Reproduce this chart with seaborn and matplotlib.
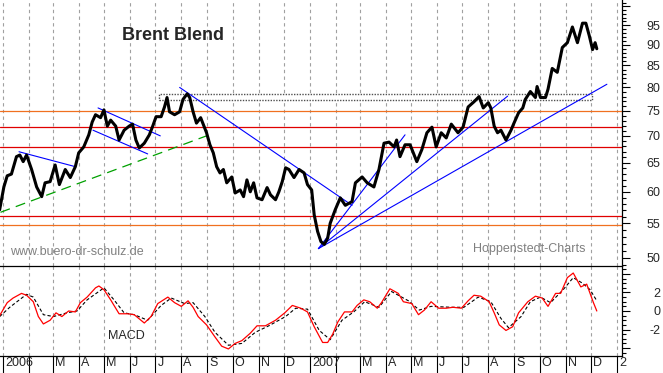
import pandas as pd
import matplotlib
matplotlib.use('Agg')
import matplotlib.pyplot as plt
import matplotlib.dates as mdates
from matplotlib.patches import Rectangle
from matplotlib.ticker import FixedLocator, FixedFormatter, NullFormatter, MultipleLocator
import seaborn as sns

# Brent Blend (USD per barrel)
price_dates = ['2005-12-28', '2006-01-02', '2006-01-06', '2006-01-11', '2006-01-17', '2006-01-21',
               '2006-01-25', '2006-01-29', '2006-02-04', '2006-02-10', '2006-02-16', '2006-02-20',
               '2006-02-26', '2006-03-04', '2006-03-09', '2006-03-16', '2006-03-22', '2006-03-28',
               '2006-04-01', '2006-04-07', '2006-04-13', '2006-04-17', '2006-04-21', '2006-04-27',
               '2006-05-01', '2006-05-05', '2006-05-09', '2006-05-15', '2006-05-19', '2006-05-25',
               '2006-05-31', '2006-06-04', '2006-06-08', '2006-06-12', '2006-06-18', '2006-06-24',
               '2006-06-28', '2006-07-02', '2006-07-08', '2006-07-12', '2006-07-15', '2006-07-18',
               '2006-07-24', '2006-07-30', '2006-08-03', '2006-08-08', '2006-08-11', '2006-08-15',
               '2006-08-19', '2006-08-24', '2006-08-27', '2006-08-31', '2006-09-04', '2006-09-08',
               '2006-09-12', '2006-09-16', '2006-09-20', '2006-09-24', '2006-09-30', '2006-10-04',
               '2006-10-10', '2006-10-14', '2006-10-18', '2006-10-22', '2006-10-26', '2006-10-30',
               '2006-11-05', '2006-11-11', '2006-11-15', '2006-11-21', '2006-11-25', '2006-11-29',
               '2006-12-03', '2006-12-07', '2006-12-13', '2006-12-19', '2006-12-25', '2006-12-29',
               '2007-01-03', '2007-01-06', '2007-01-10', '2007-01-14', '2007-01-18', '2007-01-22',
               '2007-01-25', '2007-01-31', '2007-02-06', '2007-02-12', '2007-02-20', '2007-02-24',
               '2007-03-04', '2007-03-10', '2007-03-18', '2007-03-24', '2007-03-30', '2007-04-05',
               '2007-04-11', '2007-04-14', '2007-04-18', '2007-04-24', '2007-04-30', '2007-05-08',
               '2007-05-14', '2007-05-20', '2007-05-26', '2007-05-31', '2007-06-06', '2007-06-12',
               '2007-06-18', '2007-06-26', '2007-07-02', '2007-07-08', '2007-07-15', '2007-07-21',
               '2007-07-26', '2007-08-01', '2007-08-04', '2007-08-08', '2007-08-12', '2007-08-16',
               '2007-08-22', '2007-08-28', '2007-08-31', '2007-09-06', '2007-09-11', '2007-09-14',
               '2007-09-20', '2007-09-26', '2007-09-28', '2007-10-02', '2007-10-08', '2007-10-11',
               '2007-10-16', '2007-10-22', '2007-10-28', '2007-11-03', '2007-11-09', '2007-11-15',
               '2007-11-21', '2007-11-25', '2007-11-29', '2007-12-03', '2007-12-06', '2007-12-08']
price_values = [57.1, 60.8, 62.7, 63.0, 66.1, 66.4,
                65.2, 66.4, 63.8, 60.8, 59.2, 61.5,
                61.7, 64.6, 61.2, 63.8, 62.4, 64.3,
                66.8, 67.9, 70.2, 72.7, 74.2, 73.6,
                75.2, 71.9, 73.1, 71.9, 69.2, 71.1,
                71.9, 72.3, 69.2, 67.7, 68.6, 70.2,
                71.9, 73.8, 73.8, 75.8, 77.8, 74.8,
                74.2, 74.8, 77.4, 78.6, 77.8, 74.8,
                72.5, 73.6, 72.3, 70.6, 68.3, 66.8,
                64.3, 63.2, 63.8, 61.5, 62.5, 59.8,
                60.3, 59.2, 62.0, 60.0, 61.5, 59.0,
                58.7, 60.7, 59.5, 58.7, 60.0, 61.7,
                64.1, 63.8, 62.4, 63.8, 63.2, 61.2,
                60.3, 56.3, 53.8, 52.3, 51.9, 52.8,
                55.0, 57.1, 59.0, 57.8, 58.4, 61.5,
                62.5, 61.5, 60.8, 63.8, 68.6, 68.8,
                67.9, 69.2, 66.1, 68.3, 68.3, 65.2,
                67.4, 70.6, 71.7, 67.9, 70.6, 69.6,
                72.3, 70.6, 71.7, 75.8, 76.9, 78.0,
                75.6, 76.7, 75.6, 71.9, 70.6, 71.1,
                69.2, 71.1, 72.3, 74.6, 75.6, 77.4,
                79.1, 77.8, 80.2, 77.8, 77.8, 79.6,
                84.3, 83.4, 89.3, 90.5, 94.5, 90.5,
                95.5, 95.5, 92.3, 88.8, 90.5, 89.0]

macd_dates = ['2005-12-28', '2006-01-06', '2006-01-13', '2006-01-23', '2006-01-29', '2006-02-06',
              '2006-02-12', '2006-02-18', '2006-02-26', '2006-03-05', '2006-03-12', '2006-03-20',
              '2006-03-28', '2006-04-03', '2006-04-11', '2006-04-21', '2006-04-25', '2006-05-01',
              '2006-05-09', '2006-05-19', '2006-05-29', '2006-06-06', '2006-06-18', '2006-06-26',
              '2006-07-04', '2006-07-16', '2006-07-24', '2006-08-01', '2006-08-09', '2006-08-15',
              '2006-08-21', '2006-08-31', '2006-09-10', '2006-09-18', '2006-09-26', '2006-10-04',
              '2006-10-12', '2006-10-22', '2006-10-30', '2006-11-09', '2006-11-21', '2006-12-02',
              '2006-12-11', '2006-12-21', '2006-12-29', '2007-01-06', '2007-01-16', '2007-01-22',
              '2007-01-28', '2007-02-03', '2007-02-11', '2007-02-20', '2007-02-26', '2007-03-06',
              '2007-03-13', '2007-03-22', '2007-03-27', '2007-04-06', '2007-04-16', '2007-04-22',
              '2007-05-02', '2007-05-10', '2007-05-17', '2007-05-25', '2007-06-03', '2007-06-12',
              '2007-06-20', '2007-06-30', '2007-07-08', '2007-07-15', '2007-07-23', '2007-08-02',
              '2007-08-08', '2007-08-14', '2007-08-22', '2007-08-30', '2007-09-06', '2007-09-17',
              '2007-09-26', '2007-10-04', '2007-10-11', '2007-10-20', '2007-10-26', '2007-11-03',
              '2007-11-10', '2007-11-19', '2007-11-26', '2007-11-30', '2007-12-04', '2007-12-08']
macd_values = [-0.5, 0.9, 1.4, 1.9, 1.7, 1.0,
               -0.6, -1.4, -1.0, -0.2, -0.6, 0.0,
               -0.1, 0.9, 1.5, 2.5, 2.7, 2.3,
               1.2, -0.3, -0.3, -0.4, -1.3, -0.6,
               0.8, 1.5, 0.9, 0.5, 1.1, 0.4,
               -0.6, -1.5, -2.8, -3.8, -4.1, -3.5,
               -3.2, -2.4, -1.6, -1.6, -1.0, -0.2,
               0.6, 0.3, -0.1, -1.7, -3.4, -3.4,
               -2.5, -1.2, -0.1, -0.1, 0.6, 1.2,
               1.0, 0.3, 0.9, 2.4, 1.9, 1.0,
               0.8, -0.4, 0.1, 1.0, 0.3, 0.3,
               0.4, 0.3, 1.1, 1.7, 1.6, 1.0,
               -0.2, -1.5, -2.1, -1.7, -0.2, 1.0,
               1.6, 1.4, 0.5, 1.9, 1.9, 3.6,
               4.1, 2.6, 2.9, 1.9, 0.9, 0.0]

signal_dates = ['2005-12-28', '2006-01-09', '2006-01-29', '2006-02-06', '2006-02-18', '2006-03-02',
                '2006-03-18', '2006-03-30', '2006-04-11', '2006-05-01', '2006-05-13', '2006-05-25',
                '2006-06-06', '2006-06-22', '2006-07-08', '2006-07-20', '2006-08-05', '2006-08-15',
                '2006-08-29', '2006-09-10', '2006-09-26', '2006-10-12', '2006-10-28', '2006-11-13',
                '2006-12-03', '2006-12-15', '2006-12-29', '2007-01-12', '2007-01-25', '2007-02-08',
                '2007-02-22', '2007-03-07', '2007-03-24', '2007-04-08', '2007-04-28', '2007-05-11',
                '2007-05-25', '2007-06-18', '2007-07-03', '2007-07-20', '2007-08-04', '2007-08-16',
                '2007-08-25', '2007-09-09', '2007-09-20', '2007-10-02', '2007-10-14', '2007-10-29',
                '2007-11-10', '2007-11-21', '2007-11-30', '2007-12-08']
signal_values = [-0.6, 0.4, 1.8, 1.5, -0.4, -0.6,
                 -0.2, 0.0, 1.2, 2.5, 1.2, -0.2,
                 -0.4, -1.0, 0.6, 1.4, 0.8, 0.9,
                 -0.6, -2.3, -3.7, -3.5, -2.3, -1.6,
                 -0.6, 0.3, 0.2, -2.1, -3.1, -1.0,
                 -0.1, 1.0, 0.4, 2.1, 1.1, 0.1,
                 0.5, 0.4, 0.4, 1.5, 1.0, -0.8,
                 -1.8, -0.6, 1.0, 1.5, 0.9, 2.3,
                 3.6, 3.0, 2.3, 1.1]

# support / resistance levels
red_levels = [71.7, 67.9, 56.2]
orange_levels = [75.0, 54.7]

# trend lines: (start date, start price, end date, end price)
blue_lines = [('2006-01-20', 67.0, '2006-03-28', 64.3),
              ('2006-04-24', 75.6, '2006-07-07', 70.0),
              ('2006-04-18', 71.1, '2006-06-22', 66.6),
              ('2006-07-30', 80.0, '2007-02-20', 57.8),
              ('2007-01-11', 51.3, '2007-04-24', 70.2),
              ('2007-01-11', 51.3, '2007-08-24', 78.1),
              ('2007-01-11', 51.3, '2007-12-20', 80.7)]
green_line = ('2005-12-29', 56.7, '2006-08-31', 70.0)
zone = ('2006-07-06', '2007-12-02', 77.3, 78.5)

months = pd.date_range('2006-01-01', '2008-01-01', freq='MS')
month_labels = ['2006', '', 'M', 'A', 'M', 'J', 'J', 'A', 'S', 'O', 'N', 'D',
                '2007', '', 'M', 'A', 'M', 'J', 'J', 'A', 'S', 'O', 'N', 'D', '2']
price_ticks = [50, 55, 60, 65, 70, 75, 80, 85, 90, 95, 100]
macd_ticks = [-4, -2, 0, 2, 4]

sns.set_style('white')
plt.rcParams['font.family'] = ['Liberation Sans', 'DejaVu Sans']

fig = plt.figure(figsize=(6.63, 3.73), dpi=100)
ax = fig.add_axes([0, 0.2869, 0.9382, 0.7131])
ax2 = fig.add_axes([0, 0.0456, 0.9382, 0.2413], sharex=ax)

ax.set_yscale('log')

# levels and zone
for lv in red_levels:
    ax.axhline(lv, color='#e00000', lw=0.9, zorder=2)
for lv in orange_levels:
    ax.axhline(lv, color='#f07020', lw=0.9, zorder=2)
z0, z1 = mdates.date2num(pd.to_datetime(zone[0])), mdates.date2num(pd.to_datetime(zone[1]))
ax.add_patch(Rectangle((z0, zone[2]), z1 - z0, zone[3] - zone[2], facecolor='white',
                       edgecolor='#505050', lw=1.0, ls=(0, (1, 1)), zorder=2))

for d0, p0, d1, p1 in blue_lines:
    ax.plot(pd.to_datetime([d0, d1]), [p0, p1], color='#0000ff', lw=0.8, zorder=3)
ax.plot(pd.to_datetime([green_line[0], green_line[2]]), [green_line[1], green_line[3]],
        color='#00a000', lw=0.9, ls=(0, (8, 5)), zorder=3)

sns.lineplot(x=pd.to_datetime(price_dates), y=price_values, ax=ax, color='black', lw=2.2, zorder=4)

sns.lineplot(x=pd.to_datetime(signal_dates), y=signal_values, ax=ax2, color='black',
             lw=0.8, ls=(0, (3, 2)), zorder=3)
sns.lineplot(x=pd.to_datetime(macd_dates), y=macd_values, ax=ax2, color='#ff0000', lw=0.9, zorder=4)

ax.set_xlim(pd.Timestamp('2005-12-28 10:00'), pd.Timestamp('2008-01-07'))
ax.set_ylim(48.9, 101.8)
ax2.set_ylim(-4.86, 4.86)

# price axis on the right
ax.yaxis.tick_right()
ax.yaxis.set_major_locator(FixedLocator(price_ticks))
ax.yaxis.set_major_formatter(FixedFormatter([str(t) for t in price_ticks[:-1]] + ['']))
ax.yaxis.set_minor_locator(FixedLocator(list(range(49, 102))))
ax.yaxis.set_minor_formatter(NullFormatter())
ax.tick_params(axis='y', which='major', length=5.8, width=0.8, color='black', pad=21.6,
               labelsize=9, right=True, left=False)
ax.tick_params(axis='y', which='minor', length=3, width=0.8, color='black', right=True, left=False)
plt.setp(ax.get_yticklabels(), ha='right')

ax2.yaxis.tick_right()
ax2.yaxis.set_major_locator(FixedLocator(macd_ticks))
ax2.yaxis.set_major_formatter(FixedFormatter(['', '-2', '0', '2', '']))
ax2.yaxis.set_minor_locator(MultipleLocator(0.5))
ax2.tick_params(axis='y', which='major', length=5.8, width=0.8, color='black', pad=21.6,
                labelsize=9, right=True, left=False)
ax2.tick_params(axis='y', which='minor', length=3, width=0.8, color='black', right=True, left=False)
plt.setp(ax2.get_yticklabels(), ha='right')

# months: gridlines + long ticks at month start, labels just right of them
ax2.xaxis.set_major_locator(FixedLocator(mdates.date2num(months)))
ax2.xaxis.set_major_formatter(NullFormatter())
ax2.xaxis.set_minor_locator(FixedLocator(mdates.date2num(months + pd.Timedelta(days=2.5))))
ax2.xaxis.set_minor_formatter(FixedFormatter(month_labels))
ax2.tick_params(axis='x', which='major', length=12, width=0.8, color='black', bottom=True)
ax2.tick_params(axis='x', which='minor', length=0, pad=1, labelsize=9, bottom=True)
plt.setp(ax2.get_xticklabels(minor=True), ha='left')
ax.tick_params(axis='x', which='both', length=0, labelbottom=False)

for a in (ax, ax2):
    a.grid(False)
    a.grid(True, which='major', axis='x', color='#a0a0a0', lw=0.8, ls=(0, (3, 3)))
    a.set_xlabel('')
    a.set_ylabel('')
    a.set_facecolor('white')

for s in ('left', 'top', 'bottom'):
    ax.spines[s].set_visible(False)
ax.spines['right'].set_color('black')
ax.spines['right'].set_linewidth(0.9)
ax2.spines['left'].set_visible(False)
for s in ('top', 'bottom', 'right'):
    ax2.spines[s].set_color('black')
    ax2.spines[s].set_linewidth(0.9)

ax.text(0.196, 0.865, 'Brent Blend', transform=ax.transAxes, fontsize=13,
        fontweight='bold', va='center', ha='left')
ax.text(0.016, 0.053, 'www.buero-dr-schulz.de', transform=ax.transAxes, fontsize=9,
        color='#808080', va='center', ha='left')
ax.text(0.760, 0.064, 'Hoppenstedt-Charts', transform=ax.transAxes, fontsize=9,
        color='#808080', va='center', ha='left')
ax2.text(0.174, 0.222, 'MACD', transform=ax2.transAxes, fontsize=9, va='center', ha='left')

fig.savefig('out.png', dpi=100)
